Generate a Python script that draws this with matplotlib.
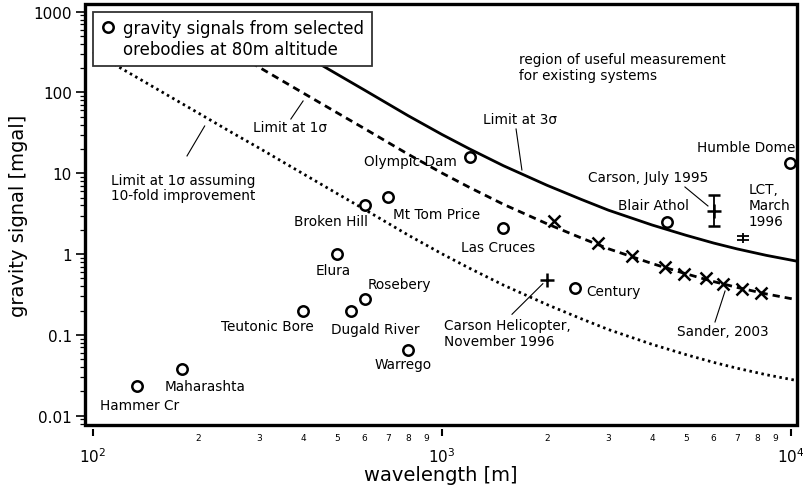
import numpy as np
import matplotlib
matplotlib.use("Agg")
import matplotlib.pyplot as plt
from matplotlib.patches import Rectangle
from matplotlib.ticker import LogLocator, FuncFormatter, NullFormatter

plt.rcParams['font.family'] = 'DejaVu Sans'

# noise limits of the airborne systems, vs wavelength [m]
wl_3sigma = [300, 400, 500, 600, 800, 1000, 1200, 1500, 2000, 2500, 3000,
             4000, 5000, 6000, 7000, 8500, 10500]
limit_3sigma = [611, 296, 169, 107, 51.6, 30.2, 20, 12.4, 7.1, 4.77, 3.49,
                2.29, 1.71, 1.37, 1.16, 0.964, 0.81]
wl_1sigma = [200, 250, 300, 400, 500, 600, 800, 1000, 1200, 1500, 2000,
             2500, 3000, 4000, 5000, 6000, 7000, 8500, 10500]
limit_1sigma = [560, 319, 204, 98.7, 56.3, 35.7, 17.2, 10.07, 6.67, 4.13, 2.37,
                1.59, 1.163, 0.763, 0.57, 0.457, 0.387, 0.321, 0.27]
wl_1sigma_10x = [100, 120, 150, 200, 250, 300, 400, 500, 600, 800, 1000,
                 1200, 1500, 2000, 2500, 3000, 4000, 5000, 6000, 7000, 8500, 10500]
limit_1sigma_10x = [318, 201, 115, 56, 31.9, 20.4, 9.87, 5.63, 3.57, 1.72, 1.007,
                    0.667, 0.413, 0.237, 0.159, 0.1163, 0.0763, 0.057, 0.0457,
                    0.0387, 0.0321, 0.027]

# orebody signals at 80 m altitude
ore_names = ['Hammer Cr', 'Maharashta', 'Teutonic Bore', 'Elura', 'Dugald River',
             'Rosebery', 'Warrego', 'Broken Hill', 'Mt Tom Price', 'Olympic Dam',
             'Las Cruces', 'Century', 'Blair Athol', 'Humble Dome']
ore_wavelength = [134, 180, 400, 500, 550, 600, 800, 600, 700, 1200,
                  1500, 2400, 4400, 9900]
ore_signal = [0.023, 0.038, 0.2, 1.0, 0.2, 0.28, 0.065, 4.0, 5.1, 16,
              2.1, 0.38, 2.5, 13.4]

# Sander, 2003
sander_wavelength = [2100, 2800, 3500, 4350, 4950, 5700, 6400, 7250, 8200]
sander_signal = [2.57, 1.37, 0.95, 0.69, 0.57, 0.51, 0.43, 0.37, 0.33]

# survey results
heli_wavelength, heli_signal = 2000, 0.48
july_wavelength, july_signal, july_low, july_high = 6000, 3.4, 2.22, 5.38
lct_wavelength, lct_signal, lct_err = 7300, 1.59, 0.09

# label placement: text, x, y, horizontal alignment
ore_labels = [
    ('Hammer Cr', 136, 0.0136, 'center'),
    ('Maharashta', 209, 0.0233, 'center'),
    ('Teutonic Bore', 315, 0.129, 'center'),
    ('Elura', 487, 0.635, 'center'),
    ('Dugald River', 481, 0.118, 'left'),
    ('Rosebery', 614, 0.427, 'left'),
    ('Warrego', 936, 0.0437, 'right'),
    ('Broken Hill', 614, 2.57, 'right'),
    ('Mt Tom Price', 724, 3.13, 'left'),
    ('Olympic Dam', 1104, 14.2, 'right'),
    ('Las Cruces', 1847, 1.224, 'right'),
    ('Century', 2586, 0.349, 'left'),
    ('Blair Athol', 4024, 4.05, 'center'),
    ('Humble Dome', 10270, 21.2, 'right'),
]
other_labels = [
    ('Carson, July 1995', 3890, 9.0, 'center'),
    ('LCT,\nMarch\n1996', 7540, 4.05, 'left'),
    ('Carson Helicopter,\nNovember 1996', 1013, 0.1054, 'left'),
    ('Sander, 2003', 6380, 0.112, 'center'),
    ('Limit at 3σ', 1673, 47, 'center'),
    ('Limit at 1σ', 367, 37.4, 'center'),
    ('Limit at 1σ assuming\n10-fold improvement', 181, 6.67, 'center'),
    ('region of useful measurement\nfor existing systems', 1662, 207, 'left'),
]
leaders = [
    ((4966, 6.77), (5780, 3.94)),
    ((1587, 0.18), (1945, 0.43)),
    ((6055, 0.1445), (6470, 0.349)),
    ((1630, 35.3), (1694, 11.0)),
    ((369, 47), (400, 78.5)),
    ((186, 16.4), (209, 38.5)),
]

fig = plt.figure(figsize=(8.04, 4.89), dpi=100)
ax = fig.add_axes([85 / 804, 1 - 426 / 489, 712 / 804, 421 / 489])
ax.set_xscale('log')
ax.set_yscale('log')
ax.set_xlim(94.9, 10400)
ax.set_ylim(0.00767, 1245)

ax.plot(wl_3sigma, limit_3sigma, color='black', lw=2.0, solid_capstyle='butt', zorder=2)
ax.plot(wl_1sigma, limit_1sigma, color='black', lw=2.0, linestyle=(0, (2.6, 1.8)), zorder=2)
ax.plot(wl_1sigma_10x, limit_1sigma_10x, color='black', lw=2.0,
        linestyle=(0, (0.9, 1.3)), zorder=2)

ax.plot(ore_wavelength, ore_signal, 'o', ms=7.5, mfc='white', mec='black', mew=1.8, zorder=4)
ax.plot(sander_wavelength, sander_signal, 'x', ms=8.5, mec='black', mew=1.8, zorder=4)
ax.plot([heli_wavelength], [heli_signal], '+', ms=10, mec='black', mew=1.8, zorder=4)
ax.errorbar([july_wavelength], [july_signal],
            yerr=[[july_signal - july_low], [july_high - july_signal]],
            fmt='+', ms=10, mew=1.8, color='black', ecolor='black',
            elinewidth=1.3, capsize=4, capthick=1.3, zorder=4)
ax.errorbar([lct_wavelength], [lct_signal], yerr=[[lct_err], [lct_err]],
            fmt='|', ms=6.5, mew=1.3, color='black', ecolor='black',
            elinewidth=1.3, capsize=4, capthick=1.3, zorder=4)

for text, x, y, ha in ore_labels + other_labels:
    ax.text(x, y, text, ha=ha, va='center', fontsize=9.8, linespacing=1.15, zorder=5)
for (x0, y0), (x1, y1) in leaders:
    ax.plot([x0, x1], [y0, y1], color='black', lw=0.8, zorder=3)

# legend box
ax.add_patch(Rectangle((0.0112, 0.8527), 0.3919, 0.1283, transform=ax.transAxes,
                       facecolor='white', edgecolor='#333333', lw=1.3, zorder=6))
ax.plot([0.0323], [0.9454], 'o', ms=7.5, mfc='white', mec='black', mew=1.8,
        transform=ax.transAxes, zorder=7)
ax.text(0.0534, 0.917, 'gravity signals from selected\norebodies at 80m altitude',
        transform=ax.transAxes, ha='left', va='center', fontsize=12,
        linespacing=1.22, zorder=7)

# frame, with the x axis ticks set off below it
for side in ['left', 'right', 'top', 'bottom']:
    ax.spines[side].set_visible(False)
ax.spines['bottom'].set_position(('outward', 3))
ax.add_patch(Rectangle((0, 0), 1, 1, transform=ax.transAxes, fill=False,
                       edgecolor='black', lw=2.4, clip_on=False, zorder=8))

ax.yaxis.set_major_locator(LogLocator(base=10, numticks=10))
ax.yaxis.set_minor_locator(LogLocator(base=10, subs=np.arange(2, 10), numticks=20))
ax.yaxis.set_major_formatter(FuncFormatter(lambda v, p: '{:g}'.format(v)))
ax.yaxis.set_minor_formatter(NullFormatter())
ax.xaxis.set_minor_locator(LogLocator(base=10, subs=np.arange(2, 10), numticks=20))
ax.xaxis.set_minor_formatter(FuncFormatter(
    lambda v, p: '{:d}'.format(int(round(v / 10 ** np.floor(np.log10(v) + 1e-9))))))

ax.tick_params(axis='y', which='major', direction='out', length=6.5, width=1.2,
               labelsize=11, pad=3)
ax.tick_params(axis='y', which='minor', direction='out', length=3.5, width=0.9)
ax.tick_params(axis='x', which='major', direction='out', length=5, width=1.5,
               labelsize=11, pad=7)
ax.tick_params(axis='x', which='minor', length=0, labelsize=6.5, pad=3)

ax.set_xlabel('wavelength [m]', fontsize=14, labelpad=0)
ax.set_ylabel('gravity signal [mgal]', fontsize=14, labelpad=4)

fig.savefig('out.png', dpi=100)
